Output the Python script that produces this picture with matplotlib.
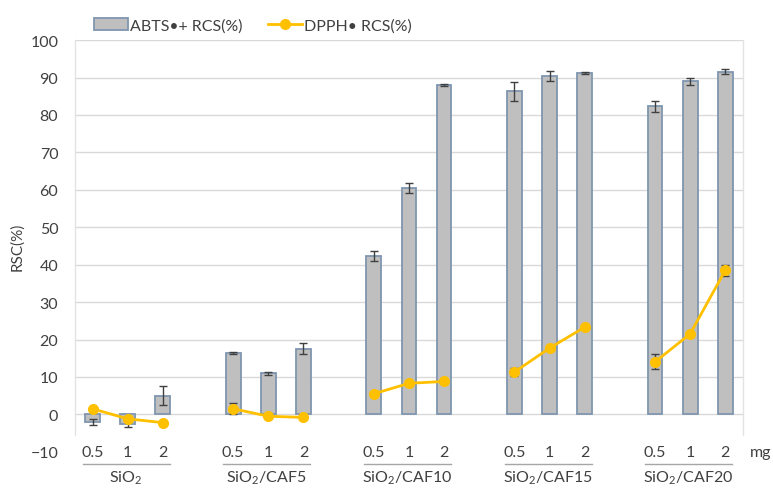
import numpy as np
import matplotlib.pyplot as plt
from matplotlib.patches import Patch
from matplotlib.lines import Line2D
import matplotlib.transforms as mtransforms

plt.rcParams['font.family'] = ['Lato', 'DejaVu Sans']
plt.rcParams['mathtext.default'] = 'regular'

# data
groups = ['SiO$_2$', 'SiO$_2$/CAF5', 'SiO$_2$/CAF10', 'SiO$_2$/CAF15', 'SiO$_2$/CAF20']
doses = ['0.5', '1', '2']

abts = [[-2.0, -2.5, 5.0],
        [16.3, 11.0, 17.5],
        [42.3, 60.5, 88.0],
        [86.3, 90.5, 91.2],
        [82.3, 89.0, 91.6]]
abts_err = [[0.8, 1.0, 2.5],
            [0.3, 0.4, 1.5],
            [1.3, 1.3, 0.3],
            [2.5, 1.3, 0.3],
            [1.5, 1.0, 0.7]]

dpph = [[1.5, -1.2, -2.2],
        [1.5, -0.5, -0.8],
        [5.5, 8.3, 8.8],
        [11.3, 17.7, 23.3],
        [14.0, 21.5, 38.5]]
dpph_err = [[0.3, 0.3, 0.4],
            [1.5, 0.3, 0.3],
            [0.6, 0.3, 0.3],
            [1.0, 0.4, 0.3],
            [2.0, 0.4, 1.5]]

bar_col = '#BFBFBF'
edge_col = '#7F95B0'
line_col = '#FFC000'
err_col = '#404040'
txt_col = '#404040'

fig = plt.figure(figsize=(7.73, 4.89), dpi=100)
ax = fig.add_axes([0.097, 0.074, 0.864, 0.842])

for i in range(len(groups)):
    x = np.arange(3) + 4 * i
    ax.bar(x, abts[i], width=0.42, color=bar_col, edgecolor=edge_col, linewidth=1.3, zorder=3)
    ax.errorbar(x, abts[i], yerr=abts_err[i], fmt='none', ecolor=err_col, elinewidth=1,
                capsize=3, capthick=1, zorder=4)
    ax.errorbar(x, dpph[i], yerr=dpph_err[i], fmt='none', ecolor=err_col, elinewidth=1,
                capsize=3, capthick=1, zorder=4)
    ax.plot(x, dpph[i], color=line_col, lw=2, marker='o', ms=7, zorder=5)

    # dose labels and group labels
    trans = mtransforms.blended_transform_factory(ax.transData, fig.transFigure)
    for j, d in enumerate(doses):
        ax.text(x[j], -10, d, ha='center', va='center', fontsize=11.5, color=txt_col, clip_on=False)
    ax.plot([x[0] - 0.28, x[2] + 0.2], [0.049, 0.049], transform=trans, color='#A6A6A6',
            lw=1, clip_on=False)
    ax.text(x[1] - 0.05, 0.022, groups[i], transform=trans, ha='center', va='center',
            fontsize=11.5, color=txt_col)

ax.text(19.0, -10, 'mg', ha='center', va='center', fontsize=11.5, color=txt_col, clip_on=False)

ax.set_xlim(-0.5, 18.5)
ax.set_ylim(-10, 100)
ax.set_xticks([])
ax.set_yticks(np.arange(-10, 101, 10))
ax.tick_params(axis='y', length=0, labelsize=11.5, labelcolor=txt_col, pad=12)
for s in ax.spines.values():
    s.set_visible(False)
for yv in range(0, 101, 10):
    ax.axhline(yv, color='#D9D9D9', lw=1, zorder=1)
ax.plot([-0.5, -0.5], [-5.5, 100], color='#E3E3E3', lw=1, zorder=1, clip_on=False)
ax.plot([18.5, 18.5], [-5.5, 100], color='#E3E3E3', lw=1, zorder=1, clip_on=False)

ax.set_ylabel('RSC(%)', fontsize=11, color=txt_col, labelpad=4)

handles = [Patch(facecolor=bar_col, edgecolor=edge_col, linewidth=1.3),
           Line2D([0], [0], color=line_col, lw=2, marker='o', ms=7)]
fig.legend(handles, ['ABTS\u2022+ RCS(%)', 'DPPH\u2022 RCS(%)'], loc='upper left',
           bbox_to_anchor=(0.103, 0.99), ncol=2, frameon=False, fontsize=11.5,
           handlelength=2.1, columnspacing=1.6, handletextpad=0.15, labelcolor=txt_col)

fig.savefig('out.png', dpi=100)
